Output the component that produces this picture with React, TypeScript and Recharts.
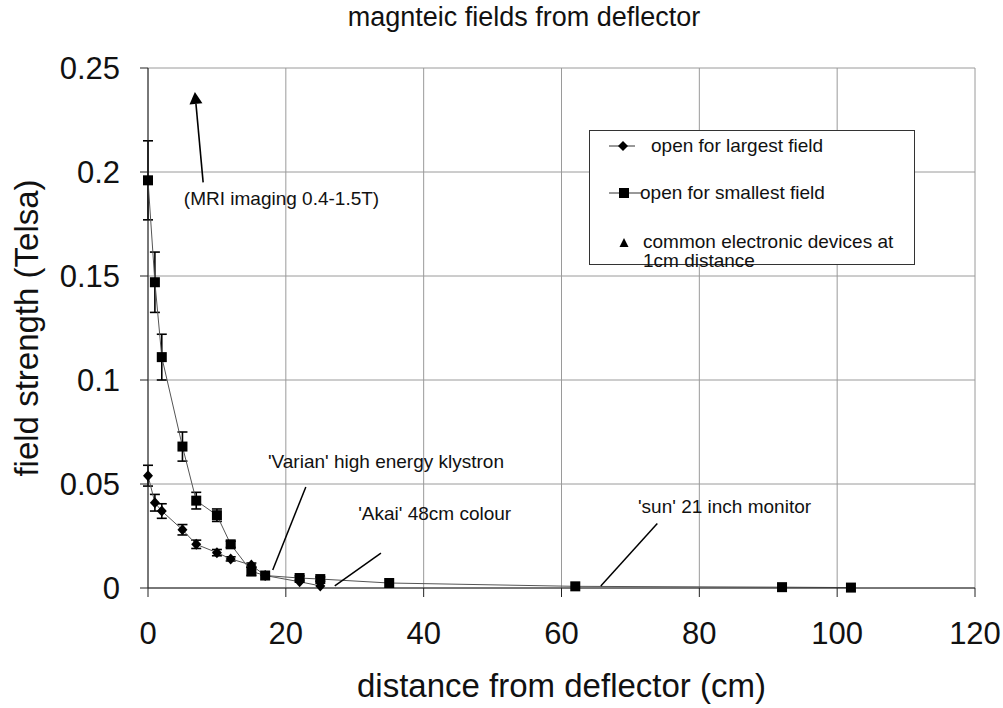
import React from 'react';
import {
  ComposedChart,
  Line,
  XAxis,
  YAxis,
  CartesianGrid,
  ErrorBar,
  ReferenceLine,
  ReferenceDot,
  Label,
} from 'recharts';

const FONT = '"Liberation Sans", Arial, sans-serif';

// open for largest field (diamonds)
const DIST_LARGEST = [0, 1, 2, 5, 7, 10, 12, 15, 17, 22, 25];
const FIELD_LARGEST = [0.054, 0.041, 0.037, 0.028, 0.021, 0.017, 0.014, 0.011, 0.006, 0.003, 0.001];
const ERR_LARGEST = [0.005, 0.004, 0.0035, 0.0025, 0.002, 0.0015, 0.001, 0.001, 0, 0, 0];

// open for smallest field (squares)
const DIST_SMALLEST = [0, 1, 2, 5, 7, 10, 12, 15, 17, 22, 25, 35, 62, 92, 102];
const FIELD_SMALLEST = [0.196, 0.147, 0.111, 0.068, 0.042, 0.035, 0.021, 0.008, 0.006, 0.0048, 0.0043, 0.0024, 0.0008, 0.0004, 0.0002];
const ERR_SMALLEST = [0.019, 0.0145, 0.011, 0.007, 0.004, 0.003, 0.0015, 0.002, 0, 0.001, 0.001, 0, 0, 0, 0];

const X_TICKS = [0, 20, 40, 60, 80, 100, 120];
const Y_TICKS = [0, 0.05, 0.1, 0.15, 0.2, 0.25];

const LEGEND_ITEMS = ['open for largest field', 'open for smallest field', 'common electronic devices at 1cm distance'];

// annotation texts (data coords of text start / baseline)
const NOTE_TEXTS = [
  { text: '(MRI imaging 0.4-1.5T)', x: 5.2, y: 0.184 },
  { text: "'Varian' high energy klystron", x: 17.4, y: 0.0577 },
  { text: "'Akai' 48cm colour", x: 30.5, y: 0.0327 },
  { text: "'sun' 21 inch monitor", x: 71.1, y: 0.036 },
];

// leader lines
const NOTE_LINES = [
  [{ x: 18.1, y: 0.0087 }, { x: 22.9, y: 0.0486 }],
  [{ x: 27.1, y: 0.001 }, { x: 33.8, y: 0.0168 }],
  [{ x: 65.7, y: 0.001 }, { x: 73.9, y: 0.031 }],
];
const MRI_ARROW = [{ x: 8.0, y: 0.195 }, { x: 6.8, y: 0.2385 }];

const largestData = DIST_LARGEST.map((x, i) => ({ x, y: FIELD_LARGEST[i], err: ERR_LARGEST[i] }));
const smallestData = DIST_SMALLEST.map((x, i) => ({ x, y: FIELD_SMALLEST[i], err: ERR_SMALLEST[i] }));

const DiamondDot = (props: any) => {
  const { cx, cy } = props;
  if (cx == null || cy == null) return null;
  return <polygon points={`${cx},${cy - 5.5} ${cx + 5},${cy} ${cx},${cy + 5.5} ${cx - 5},${cy}`} fill="#000" />;
};

const SquareDot = (props: any) => {
  const { cx, cy } = props;
  if (cx == null || cy == null) return null;
  return <rect x={cx - 5} y={cy - 5} width={10} height={10} fill="#000" />;
};

const ArrowShape = (props: any) => {
  const { x1, y1, x2, y2 } = props;
  const dx = x2 - x1;
  const dy = y2 - y1;
  const len = Math.sqrt(dx * dx + dy * dy) || 1;
  const ux = dx / len;
  const uy = dy / len;
  const bx = x2 - ux * 12;
  const by = y2 - uy * 12;
  return (
    <g>
      <line x1={x1} y1={y1} x2={bx} y2={by} stroke="#000" strokeWidth={1.6} />
      <polygon
        points={`${x2},${y2} ${bx - uy * 6.5},${by + ux * 6.5} ${bx + uy * 6.5},${by - ux * 6.5}`}
        fill="#000"
      />
    </g>
  );
};

const noteText = (text: string) => (props: any) => (
  <text x={props.cx} y={props.cy} fontSize={19} fontFamily={FONT} fill="#111">
    {text}
  </text>
);

const XLabel = (props: any) => {
  const vb = props.viewBox || {};
  return (
    <text x={vb.x + vb.width / 2} y={vb.y + vb.height - 11} textAnchor="middle" fontSize={33} fontFamily={FONT} fill="#111">
      distance from deflector (cm)
    </text>
  );
};

const YLabel = (props: any) => {
  const vb = props.viewBox || {};
  const x = vb.x + 38;
  const y = vb.y + vb.height / 2;
  return (
    <text x={x} y={y} transform={`rotate(-90, ${x}, ${y})`} textAnchor="middle" fontSize={33} fontFamily={FONT} fill="#111">
      field strength (Telsa)
    </text>
  );
};

function LegendBox() {
  const text: React.CSSProperties = { position: 'absolute', fontSize: 19, fontFamily: FONT, color: '#111', whiteSpace: 'nowrap', lineHeight: '19px' };
  return (
    <div
      style={{
        position: 'absolute',
        left: 589,
        top: 130,
        width: 326,
        height: 135,
        border: '1px solid #333',
        background: '#fff',
        boxSizing: 'border-box',
      }}
    >
      <svg width={326} height={135} style={{ position: 'absolute', left: 0, top: 0 }}>
        <line x1={19} y1={15} x2={45} y2={15} stroke="#333" strokeWidth={1} />
        <polygon points="33,10 38,15 33,20 28,15" fill="#000" />
        <line x1={19} y1={62} x2={51} y2={62} stroke="#333" strokeWidth={1} />
        <rect x={29} y={57} width={10} height={10} fill="#000" />
        <polygon points="34,107 38.5,116 29.5,116" fill="#000" />
      </svg>
      <div style={{ ...text, left: 61, top: 5 }}>{LEGEND_ITEMS[0]}</div>
      <div style={{ ...text, left: 50, top: 52 }}>{LEGEND_ITEMS[1]}</div>
      <div style={{ ...text, left: 53, top: 101, whiteSpace: 'normal', width: 260 }}>{LEGEND_ITEMS[2]}</div>
    </div>
  );
}

export default function App() {
  return (
    <div style={{ position: 'absolute', left: 0, top: 0, width: 1003, height: 708, background: '#fff' }}>
      <div
        style={{
          position: 'absolute',
          left: 224,
          top: 4,
          width: 600,
          textAlign: 'center',
          fontSize: 27,
          lineHeight: '27px',
          fontFamily: FONT,
          color: '#111',
        }}
      >
        magnteic fields from deflector
      </div>
      <ComposedChart width={1003} height={708} margin={{ top: 68, right: 28, bottom: 0, left: 0 }}>
        <CartesianGrid stroke="#9a9a9a" strokeWidth={1} />
        <XAxis
          type="number"
          dataKey="x"
          domain={[0, 120]}
          ticks={X_TICKS}
          height={120}
          tickSize={9}
          tickMargin={25}
          stroke="#222"
          tick={{ fontSize: 31, fill: '#111', fontFamily: FONT }}
        >
          <Label content={<XLabel />} />
        </XAxis>
        <YAxis
          type="number"
          domain={[0, 0.25]}
          ticks={Y_TICKS}
          width={148}
          tickSize={8}
          tickMargin={20}
          stroke="#222"
          tickFormatter={(v: number) => String(v)}
          tick={{ fontSize: 31, fill: '#111', fontFamily: FONT }}
        >
          <Label content={<YLabel />} />
        </YAxis>
        <Line
          data={largestData}
          dataKey="y"
          name="open for largest field"
          stroke="#555"
          strokeWidth={1}
          dot={<DiamondDot />}
          activeDot={false}
          isAnimationActive={false}
        >
          <ErrorBar dataKey="err" width={5} stroke="#000" strokeWidth={1.6} direction="y" />
        </Line>
        <Line
          data={smallestData}
          dataKey="y"
          name="open for smallest field"
          stroke="#555"
          strokeWidth={1}
          dot={<SquareDot />}
          activeDot={false}
          isAnimationActive={false}
        >
          <ErrorBar dataKey="err" width={5} stroke="#000" strokeWidth={1.6} direction="y" />
        </Line>
        {NOTE_LINES.map((seg, i) => (
          <ReferenceLine key={`l${i}`} segment={seg} stroke="#000" strokeWidth={1.5} />
        ))}
        <ReferenceLine segment={MRI_ARROW} shape={<ArrowShape />} />
        {NOTE_TEXTS.map((n) => (
          <ReferenceDot key={n.text} x={n.x} y={n.y} r={0} shape={noteText(n.text)} />
        ))}
      </ComposedChart>
      <LegendBox />
    </div>
  );
}
